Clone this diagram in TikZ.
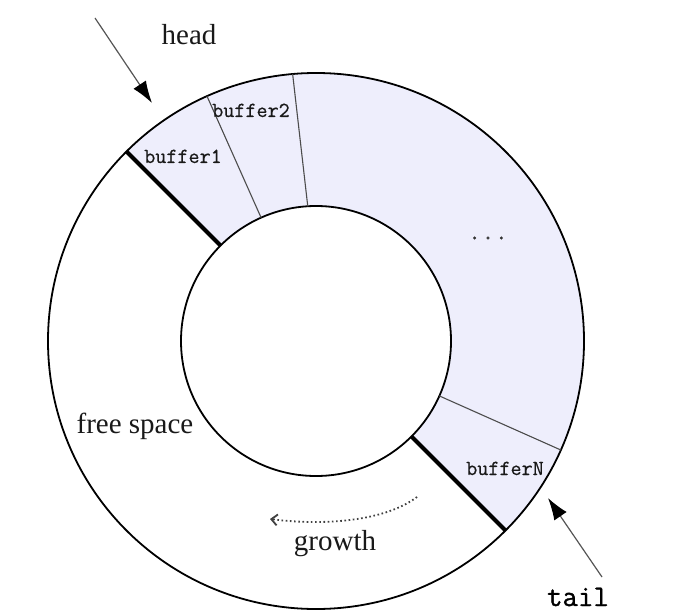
\documentclass[tikz,border=0pt]{standalone}
\usepackage{fontspec}
\setmainfont{Liberation Serif}
\newfontfamily\bufmono[FakeBold=0.5]{Latin Modern Mono}
\newfontfamily\tailmono[FakeBold=1.1]{Latin Modern Mono}
\usetikzlibrary{arrows.meta}
\definecolor{bufffill}{RGB}{238,238,252}
\definecolor{ptrgray}{RGB}{85,85,85}
\begin{document}
\begin{tikzpicture}[x=1pt,y=1pt,
  ring/.style={line width=1.8pt,draw=black},
  sep/.style={line width=1.1pt,draw=black!70},
  bound/.style={line width=4pt,draw=black},
  lbl/.style={font=\fontsize{29}{29}\selectfont,inner sep=0pt,anchor=base,text=black!90},
  buf/.style={font=\bufmono\fontsize{21.5}{21.5}\selectfont,inner sep=0pt,anchor=base,text=black!90},
  ptr/.style={draw=ptrgray,line width=1.2pt,-{Latex[length=22pt,width=15pt,black]}},
  growarrow/.style={draw=black!75,line width=1.8pt,dash pattern=on 1.6pt off 2.6pt,-{Straight Barb[length=6pt,width=11pt,black!75]}},
]
\useasboundingbox (0,0) rectangle (692,614);
\begin{scope}[shift={(316,273)}]
  \fill[bufffill] (-45:268) arc[start angle=-45,end angle=135,radius=268]
     -- (135:135) arc[start angle=135,end angle=-45,radius=135] -- cycle;
  \draw[ring] (0,0) circle[radius=268];
  \draw[ring] (0,0) circle[radius=135];
  \draw[sep] (114:135) -- (114:268);
  \draw[sep] (93.5:135) -- (95:268);
  \draw[sep] (-24:135) -- (-24:268);
  \draw[bound] (135:135) -- (135:268);
  \draw[bound] (-45:135) -- (-45:268);
\end{scope}
% labels
\node[lbl] (head) at (189,569) {head};
\node[lbl] (free) at (135,181) {free space};
\node[lbl] (growth) at (335,64) {growth};
\node[buf] (b1) at (183,451) {buffer1};
\node[buf] (b2) at (251,497) {buffer2};
\node[buf] (bN) at (505,139) {bufferN};
\node[font=\bufmono\fontsize{26}{26}\selectfont,inner sep=0pt,text=black!80] (dots) at (488,376) {...};
\node[font=\tailmono\fontsize{30}{30}\selectfont,inner sep=0pt,anchor=base] (tail) at (578,8) {tail};
% pointers
\coordinate (hs) at (95,596);
\coordinate (ht) at (152,511);
\coordinate (ts) at (602,37);
\coordinate (tt) at (548,116);
\draw[ptr] (hs) -- (ht);
\draw[ptr] (ts) -- (tt);
% growth arrow
\coordinate (gs) at (417,117);
\coordinate (ge) at (270,95);
\draw[growarrow] (gs) .. controls (385,93) and (325,88) .. (ge);
\end{tikzpicture}
\end{document}
